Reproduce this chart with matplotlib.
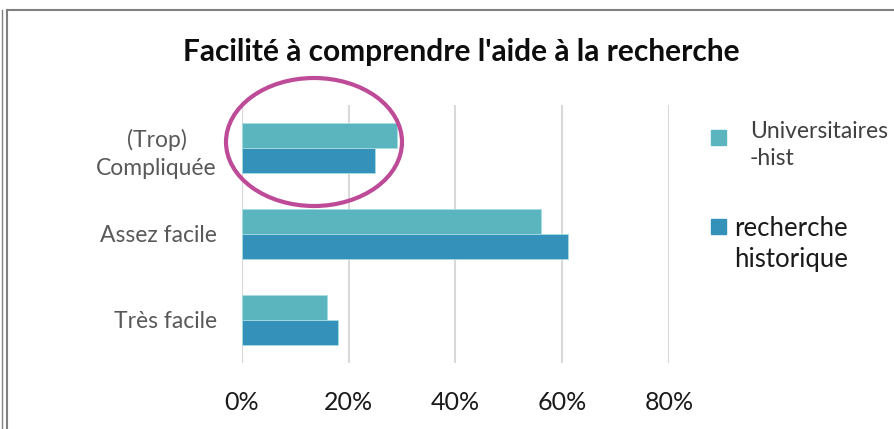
import matplotlib.pyplot as plt
from matplotlib.patches import Ellipse, Rectangle
from matplotlib.ticker import PercentFormatter
import numpy as np

plt.rcParams['font.family'] = ['Lato', 'DejaVu Sans']

# Data
categories = ['Très facile', 'Assez facile', '(Trop)\nCompliquée']
universitaires = [16, 56, 29]
recherche = [18, 61, 25]
series_names = ['Universitaires\n-hist', 'recherche\nhistorique']
xticks = [0, 20, 40, 60, 80]

c_univ = '#5BB5BF'
c_rech = '#3492BA'

fig = plt.figure(figsize=(8.95, 4.29), dpi=100)
ax = fig.add_axes([242/895, 1-363/429, (669-242)/895, (363-105)/429])

y = np.arange(len(categories))
h = 0.29
ax.barh(y + h/2, universitaires, height=h, color=c_univ, edgecolor='#A9DCE3', linewidth=0.6, zorder=3)
ax.barh(y - h/2, recherche, height=h, color=c_rech, edgecolor='#A9DCE3', linewidth=0.6, zorder=3)

ax.set_xlim(0, 80)
ax.set_ylim(-0.5, 2.5)
ax.set_xticks(xticks)
ax.xaxis.set_major_formatter(PercentFormatter(decimals=0))
ax.set_yticks(y)
ax.set_yticklabels(categories, multialignment='center', linespacing=1.45)
ax.grid(axis='x', color='#D9D9D9', linewidth=1.5, zorder=0)
for s in ax.spines.values():
    s.set_visible(False)
ax.tick_params(axis='x', length=0, pad=20, labelsize=18, labelcolor='#1a1a1a')
ax.tick_params(axis='y', length=0, pad=18, labelsize=16.5, labelcolor='#595959')

# Highlight ellipse around first category
ell = Ellipse((314/895, 1-142/429), 176/895, 128/429, transform=fig.transFigure,
              fill=False, edgecolor='#BE4B97', linewidth=3, zorder=5)
fig.add_artist(ell)

fig.text(461/895, 1-52/429, "Facilité à comprendre l'aide à la recherche",
         ha='center', va='center', fontsize=21.5, fontweight='bold', color='#0d0d0d')

# Legend
fig.add_artist(Rectangle((711/895, 1-145/429), 15/895, 15/429, transform=fig.transFigure,
                         color=c_univ))
fig.text(750/895, 1-145/429, series_names[0], ha='left', va='center', fontsize=16.5,
         color='#404040', linespacing=1.35)
fig.add_artist(Rectangle((711/895, 1-234/429), 15/895, 15/429, transform=fig.transFigure,
                         color=c_rech))
fig.text(734/895, 1-244/429, series_names[1], ha='left', va='center', fontsize=18.5,
         color='#1a1a1a', linespacing=1.3)

# Frame
fig.add_artist(plt.Line2D([2/895, 2/895], [0, 1-10/429], transform=fig.transFigure, color='#808080', lw=1))
fig.add_artist(plt.Line2D([7/895, 7/895], [0, 1-10/429], transform=fig.transFigure, color='#808080', lw=1.5))
fig.add_artist(plt.Line2D([7/895, 1], [1-10/429, 1-10/429], transform=fig.transFigure, color='#808080', lw=1.5))

plt.savefig('out.png', dpi=100)
